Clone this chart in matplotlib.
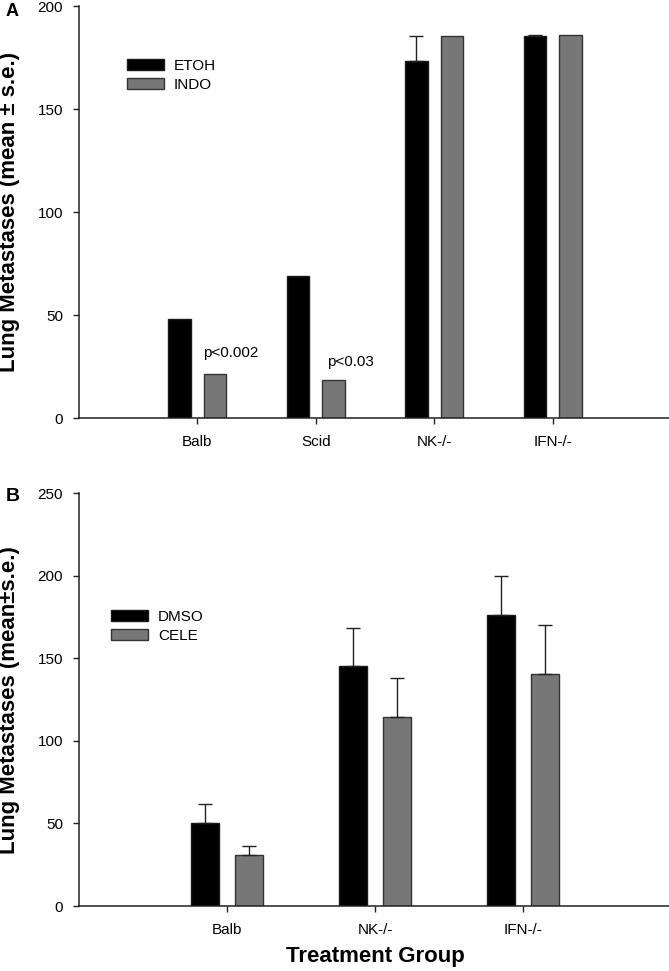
import numpy as np
import matplotlib
matplotlib.use("Agg")
import matplotlib.pyplot as plt

plt.rcParams["font.family"] = ["Liberation Sans", "DejaVu Sans"]

# panel A data
groups_a = ["Balb", "Scid", "NK-/-", "IFN-/-"]
etoh = [48.1, 69.1, 173.5, 185.3]
etoh_err = [0, 0, 12.1, 0.8]
indo = [21.6, 18.3, 185.6, 186.1]
indo_err = [0, 0, 0, 0]
pvals_a = ["p<0.002", "p<0.03"]
pval_pos_a = [(1.28, 31.7), (2.29, 27.3)]

# panel B data
groups_b = ["Balb", "NK-/-", "IFN-/-"]
dmso = [50.2, 145.6, 176.3]
dmso_err = [11.8, 22.7, 23.7]
cele = [31.1, 114.5, 140.5]
cele_err = [5.3, 23.5, 29.5]

BLACK = "#000000"
GRAY = "#777777"
EDGE = "#333333"
W = 0.19
OFF = 0.15


def draw_pair(ax, n, s1, e1, s2, e2):
    x = np.arange(1, n + 1)
    ax.bar(x - OFF, s1, W, color=BLACK, edgecolor="#1a1a1a", linewidth=1)
    ax.bar(x + OFF, s2, W, color=GRAY, edgecolor=EDGE, linewidth=1)
    for xs, vals, errs in [(x - OFF, s1, e1), (x + OFF, s2, e2)]:
        vals = np.array(vals, dtype=float)
        errs = np.array(errs, dtype=float)
        m = errs > 0
        if m.any():
            ax.errorbar(xs[m], vals[m], yerr=[np.zeros(m.sum()), errs[m]],
                        fmt="none", ecolor="#222222", elinewidth=1,
                        capsize=4.7, capthick=1)
    return x


def style_axis(ax, x, labels, ylim, yticks, xmax):
    ax.set_xlim(0, xmax)
    ax.set_ylim(*ylim)
    ax.set_yticks(yticks)
    ax.set_xticks(x)
    ax.set_xticklabels(labels)
    for s in ["top", "right"]:
        ax.spines[s].set_visible(False)
    for s in ["left", "bottom"]:
        ax.spines[s].set_linewidth(1.1)
        ax.spines[s].set_color("#222222")
    ax.tick_params(axis="both", direction="out", length=4.5, width=1,
                   color="#222222", labelsize=11)
    ax.tick_params(axis="x", pad=8)
    ax.tick_params(axis="y", pad=7)


fig = plt.figure(figsize=(6.69, 9.71), dpi=100)

ax_a = fig.add_axes([0.118, 0.5695, 0.885, 0.4243])
xa = draw_pair(ax_a, len(groups_a), etoh, etoh_err, indo, indo_err)
style_axis(ax_a, xa, groups_a, (0, 200), [0, 50, 100, 150, 200], 5)
for txt, (px, py) in zip(pvals_a, pval_pos_a):
    ax_a.text(px, py, txt, fontsize=11, ha="center", va="center")
ax_a.set_ylabel("Lung Metastases (mean \u00b1 s.e.)",
                fontsize=16, fontweight="bold")
ax_a.yaxis.set_label_coords(-0.1, 0.5)
ax_a.legend(["ETOH", "INDO"], loc="upper left", frameon=False, fontsize=11,
            bbox_to_anchor=(127 / 669, 1 - 59 / 971), bbox_transform=fig.transFigure,
            handlelength=2.42, handleheight=0.78, handletextpad=0.65,
            labelspacing=0.3, borderpad=0, borderaxespad=0)
fig.text(12 / 669, 1 - 12 / 971, "A", fontsize=13, fontweight="bold",
         ha="center", va="center")

ax_b = fig.add_axes([0.118, 0.0669, 0.885, 0.4251])
xb = draw_pair(ax_b, len(groups_b), dmso, dmso_err, cele, cele_err)
style_axis(ax_b, xb, groups_b, (0, 250), [0, 50, 100, 150, 200, 250], 4)
ax_b.set_ylabel("Lung Metastases (mean\u00b1s.e.)",
                fontsize=16, fontweight="bold")
ax_b.yaxis.set_label_coords(-0.1, 0.5)
ax_b.set_xlabel("Treatment Group", fontsize=16, fontweight="bold", labelpad=6)
ax_b.legend(["DMSO", "CELE"], loc="upper left", frameon=False, fontsize=11,
            bbox_to_anchor=(111 / 669, 1 - 610 / 971), bbox_transform=fig.transFigure,
            handlelength=2.42, handleheight=0.78, handletextpad=0.65,
            labelspacing=0.3, borderpad=0, borderaxespad=0)
fig.text(13 / 669, 1 - 496 / 971, "B", fontsize=14, fontweight="bold",
         ha="center", va="center")

fig.savefig("out.png", dpi=100)
